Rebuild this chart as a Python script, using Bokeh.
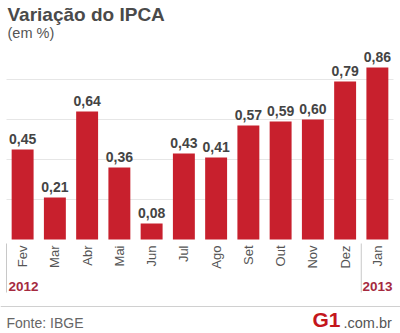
from math import pi
from bokeh.plotting import figure
from bokeh.models import Range1d, ColumnDataSource
from bokeh.core.properties import value
from bokeh.embed import file_html
from bokeh.resources import INLINE

# ---- data ----
months = ["Fev", "Mar", "Abr", "Mai", "Jun", "Jul", "Ago", "Set", "Out", "Nov", "Dez", "Jan"]
ipca = [0.45, 0.21, 0.64, 0.36, 0.08, 0.43, 0.41, 0.57, 0.59, 0.60, 0.79, 0.86]
labels = ["0,45", "0,21", "0,64", "0,36", "0,08", "0,43", "0,41", "0,57", "0,59", "0,60", "0,79", "0,86"]
grid_values = [0.2, 0.4, 0.6, 0.8]
years = ["2012", "2013"]

W, H = 400, 333
# pixel geometry of the plotting area
left_px, right_px = 6, 393
base_px, unit_px = 239, 200.0
n = len(months)
step = (right_px - left_px) / n

def dx(px):
    return (px - left_px) / step - 0.5

def dy(py):
    return (base_px - py) / unit_px

FONT = value("Liberation Sans")
SH = 5  # baseline correction

p = figure(width=W, height=H, output_backend="svg", toolbar_location=None,
           x_range=Range1d(dx(0), dx(W)), y_range=Range1d(dy(H), dy(0)),
           min_border=0, outline_line_color=None)
p.axis.visible = False
p.grid.visible = False
p.background_fill_color = "white"
p.border_fill_color = "white"

xs = list(range(n))

# gridlines
p.segment(x0=[-0.5] * len(grid_values), x1=[n - 0.5] * len(grid_values),
          y0=grid_values, y1=grid_values, line_color="#e6e6e6", line_width=1)

# bars
src = ColumnDataSource(dict(x=xs, top=ipca, lab=labels, m=months))
p.vbar(x="x", top="top", bottom=0, width=0.68, source=src,
       fill_color="#c8202d", line_color=None)

# value labels
p.text(x="x", y="top", text="lab", source=src, text_font=FONT, text_font_style="bold",
       text_font_size="14px", text_color="#444444", text_align="center",
       text_baseline="bottom", y_offset=-6)

# month labels (vertical)
p.text(x="x", y=dy(245), text="m", source=src, text_font=FONT,
       text_font_size="13px", text_color="#555555", angle=pi / 2,
       text_align="right", text_baseline="middle")

# year separators
p.segment(x0=[-0.5, 10.5], x1=[-0.5, 10.5], y0=[dy(243), dy(243)], y1=[dy(292), dy(292)],
          line_color="#c8c8c8", line_width=1)

# year labels
p.text(x=[dx(8), dx(362)], y=[dy(291 - SH), dy(291 - SH)], text=years, text_font=FONT,
       text_font_style="bold", text_font_size="13.5px", text_color="#a52a3f",
       text_align="left", text_baseline="alphabetic")

# title
p.text(x=[dx(7)], y=[dy(20 - SH - 1)], text=["Variação do IPCA"], text_font=FONT,
       text_font_style="bold", text_font_size="19px", text_color="#4a4a4a",
       text_align="left", text_baseline="alphabetic")
p.text(x=[dx(7)], y=[dy(37 - SH)], text=["(em %)"], text_font=FONT,
       text_font_size="14.5px", text_color="#555555",
       text_align="left", text_baseline="alphabetic")

# footer separator
p.segment(x0=[dx(0)], x1=[dx(W)], y0=[dy(306)], y1=[dy(306)], line_color="#d0d0d0", line_width=1)

# footer texts
p.text(x=[dx(6)], y=[dy(327 - SH)], text=["Fonte: IBGE"], text_font=FONT,
       text_font_size="14px", text_color="#666666", text_align="left", text_baseline="alphabetic")
p.text(x=[dx(312)], y=[dy(319)], text=["G1"], text_font=FONT, text_font_style="bold",
       text_font_size="21px", text_color="#c4161c", text_align="left", text_baseline="alphabetic")
p.text(x=[dx(343)], y=[dy(327 - SH)], text=[".com.br"], text_font=FONT,
       text_font_size="14.5px", text_color="#555555", text_align="left", text_baseline="alphabetic")

open("out.html", "w").write(file_html(p, INLINE))
